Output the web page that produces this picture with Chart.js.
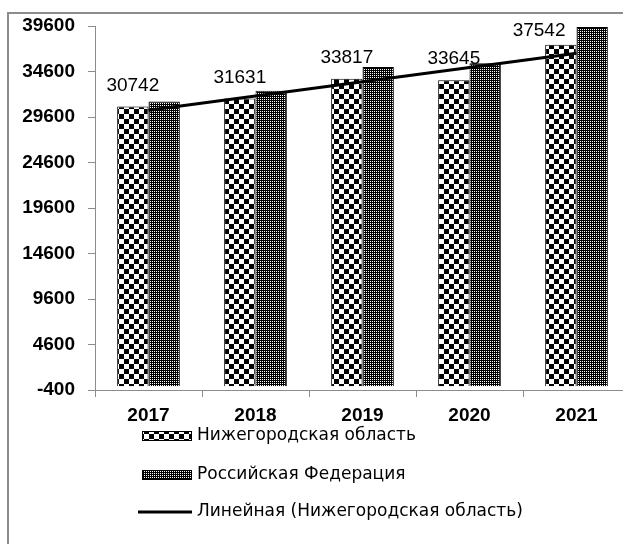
<!DOCTYPE html>
<html>
<head>
<meta charset="utf-8">
<script src="https://cdn.jsdelivr.net/npm/chart.js@4"></script>
<style>
  html, body { margin: 0; padding: 0; background: #fff; overflow: hidden; }
  .frame {
    position: absolute; left: 7px; top: 12px;
    width: 640px; height: 540px;
    border: 2px solid #8c8c8c;
  }
</style>
</head>
<body>
<div class="frame">
  <canvas id="wageChart"></canvas>
</div>
<script>
const years = ['2017', '2018', '2019', '2020', '2021'];
const nizhnyValues = [30742, 31631, 33817, 33645, 37542];
const russiaValues = [31300, 32480, 35100, 35500, 39480];
// линия тренда
const trendValues = [30350, 31910, 33480, 35040, 36600];
const yTicks = [-400, 4600, 9600, 14600, 19600, 24600, 29600, 34600, 39600];

const seriesNames = ['Нижегородская область', 'Российская Федерация', 'Линейная (Нижегородская область)'];

// штриховки
function makePattern(size, drawFn) {
    const c = document.createElement('canvas');
    c.width = size;
    c.height = size;
    const g = c.getContext('2d');
    g.fillStyle = '#fff';
    g.fillRect(0, 0, size, size);
    g.fillStyle = '#000';
    drawFn(g);
    return g.createPattern(c, 'repeat');
}
const checkerFill = makePattern(10, g => {
    g.fillRect(0, 0, 5, 5);
    g.fillRect(5, 5, 5, 5);
});
const denseFill = makePattern(2, g => {
    g.fillRect(0, 0, 2, 2);
    g.fillStyle = '#fff';
    g.fillRect(1, 1, 1, 1);
});

const axisFont = 'Liberation Sans';
const legendFont = 'DejaVu Sans';
const axisGray = '#8c8c8c';

// подписи значений над столбцами
const valueLabels = {
    id: 'valueLabels',
    afterDatasetsDraw(chart) {
        const ctx = chart.ctx;
        const top = chart.chartArea.top;
        const meta = chart.getDatasetMeta(0);
        ctx.save();
        ctx.font = '19px "' + axisFont + '"';
        ctx.fillStyle = '#000';
        ctx.textBaseline = 'alphabetic';
        meta.data.forEach((bar, i) => {
            let y = bar.y - 16;
            if (y < top + 10) {
                // упирается в верх - сдвигаем влево от соседнего столбца
                y = top + 10;
                ctx.textAlign = 'right';
                ctx.fillText(String(nizhnyValues[i]), bar.x + bar.width / 2 - 11, y);
            } else {
                ctx.textAlign = 'center';
                ctx.fillText(String(nizhnyValues[i]), bar.x, y);
            }
        });
        ctx.restore();
    }
};

// легенда в столбик под осью
const columnLegend = {
    id: 'columnLegend',
    afterDraw(chart) {
        const ctx = chart.ctx;
        const area = chart.chartArea;
        const x0 = area.left + 47;
        const rows = [area.bottom + 46, area.bottom + 85, area.bottom + 122];
        ctx.save();
        ctx.font = '17px "' + legendFont + '"';
        ctx.fillStyle = '#000';
        ctx.textBaseline = 'middle';
        chart.data.datasets.forEach((ds, i) => {
            const y = rows[i];
            if (ds.type === 'line') {
                ctx.strokeStyle = '#000';
                ctx.lineWidth = 3;
                ctx.beginPath();
                ctx.moveTo(x0 - 4, y);
                ctx.lineTo(x0 + 50, y);
                ctx.stroke();
            } else {
                ctx.fillStyle = ds.backgroundColor;
                ctx.fillRect(x0, y - 5, 50, 10);
                ctx.strokeStyle = '#000';
                ctx.lineWidth = 1;
                ctx.strokeRect(x0 + 0.5, y - 4.5, 49, 9);
            }
            ctx.fillStyle = '#000';
            ctx.fillText(ds.label, x0 + 55, y);
        });
        ctx.restore();
    }
};

const ctx = document.getElementById('wageChart').getContext('2d');

const wageChart = new Chart(ctx, {
    type: 'bar',
    data: {
        labels: years,
        datasets: [
            {
                label: seriesNames[0],
                data: nizhnyValues,
                backgroundColor: checkerFill,
                borderColor: '#000',
                borderWidth: 1,
                order: 1
            },
            {
                label: seriesNames[1],
                data: russiaValues,
                backgroundColor: denseFill,
                borderColor: '#000',
                borderWidth: 1,
                order: 1
            },
            {
                type: 'line',
                label: seriesNames[2],
                data: trendValues,
                borderColor: '#000',
                borderWidth: 3,
                pointRadius: 0,
                fill: false,
                order: 0
            }
        ]
    },
    options: {
        responsive: true,
        maintainAspectRatio: false,
        animation: false,
        categoryPercentage: 0.586,
        barPercentage: 1.0,
        layout: {
            padding: { top: 12, right: 19, bottom: 127, left: 0 }
        },
        scales: {
            x: {
                afterFit: scale => {
                    scale.height = 37;
                },
                grid: {
                    display: true,
                    drawOnChartArea: false,
                    offset: true,
                    color: axisGray,
                    tickLength: 7
                },
                border: { color: axisGray, width: 1 },
                ticks: {
                    color: '#000',
                    padding: 7,
                    font: { family: axisFont, size: 19, weight: 'bold' }
                }
            },
            y: {
                min: -400,
                max: 39600,
                afterBuildTicks: scale => {
                    scale.ticks = yTicks.map(v => ({ value: v }));
                },
                afterFit: scale => {
                    scale.width = 86;
                    scale.paddingTop = 0;
                    scale.paddingBottom = 0;
                },
                grid: {
                    display: true,
                    drawOnChartArea: false,
                    color: axisGray,
                    tickLength: 7
                },
                border: { color: axisGray, width: 1 },
                ticks: {
                    color: '#000',
                    padding: 13,
                    font: { family: axisFont, size: 19, weight: 'bold' },
                    callback: value => String(value)
                }
            }
        },
        plugins: {
            legend: { display: false },
            tooltip: { enabled: false }
        }
    },
    plugins: [valueLabels, columnLegend]
});
</script>
</body>
</html>
